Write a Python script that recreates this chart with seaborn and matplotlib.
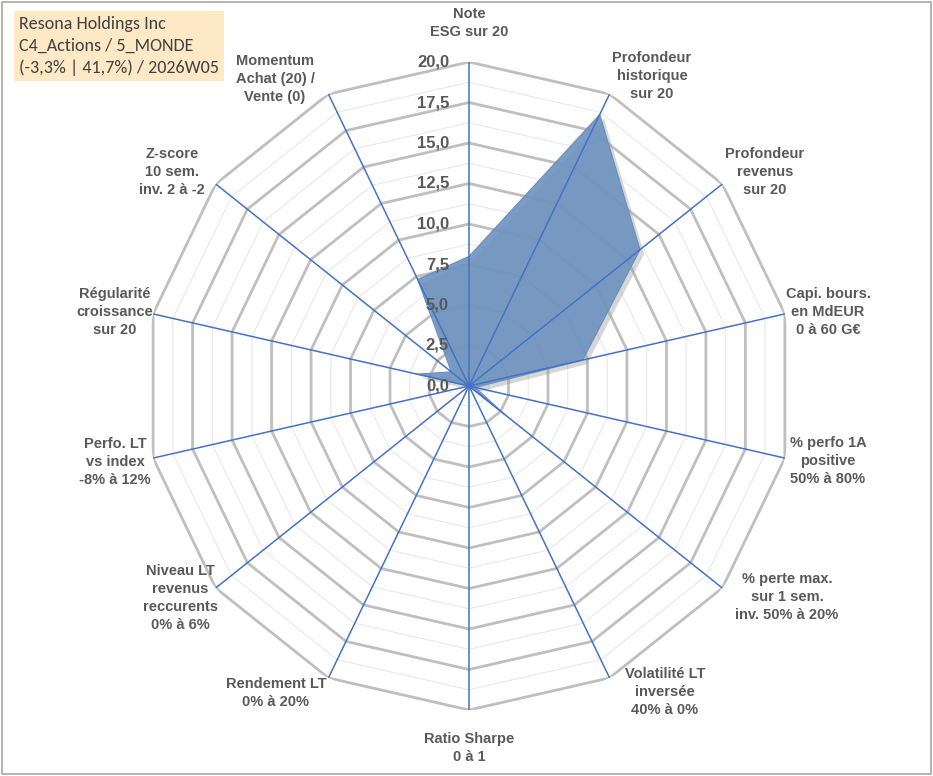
import numpy as np
import matplotlib
matplotlib.use("Agg")
import matplotlib.pyplot as plt
import seaborn as sns
import matplotlib.patheffects as pe

sns.set_theme(style="white")
plt.rcParams['font.family'] = ['Liberation Sans', 'DejaVu Sans']

categories = [
    "Note\nESG sur 20",
    "Profondeur\nhistorique\nsur 20",
    "Profondeur\nrevenus\nsur 20",
    "Capi. bours.\nen MdEUR\n0 à 60 G€",
    "% perfo 1A\npositive\n50% à 80%",
    "% perte max.\nsur 1 sem.\ninv. 50% à 20%",
    "Volatilité LT\ninversée\n40% à 0%",
    "Ratio Sharpe\n0 à 1",
    "Rendement LT\n0% à 20%",
    "Niveau LT\nrevenus\nreccurents\n0% à 6%",
    "Perfo. LT\nvs index\n-8% à 12%",
    "Régularité\ncroissance\nsur 20",
    "Z-score\n10 sem.\ninv. 2 à -2",
    "Momentum\nAchat (20) /\nVente (0)",
]
values = [8.0, 18.6, 13.5, 7.2, 0.4, 2.8, 0.0, 0.0, 0.0, 0.0, 0.0, 3.3, 1.4, 7.3]
major_ticks = [0, 2.5, 5, 7.5, 10, 12.5, 15, 17.5, 20]
minor_ticks = [1.25, 3.75, 6.25, 8.75, 11.25, 13.75, 16.25, 18.75]
tick_labels = ["0,0", "2,5", "5,0", "7,5", "10,0", "12,5", "15,0", "17,5", "20,0"]
title_lines = "Resona Holdings Inc\nC4_Actions / 5_MONDE\n(-3,3% | 41,7%) / 2026W05"

# label pixel positions (center) in the 933x776 canvas
label_pos = [(469, 23), (652, 76), (765, 172), (828, 312), (828, 461), (787, 597),
             (665, 692), (469, 748), (276, 693), (180, 598), (115, 462), (115, 312),
             (172, 172), (275, 79)]

LAB_FONT = ["Liberation Sans", "DejaVu Sans"]

W, H = 933, 776
fig = plt.figure(figsize=(W / 100, H / 100), dpi=100)
fig.patch.set_facecolor("white")

cx, cy, R = 469, 386, 324
ax = fig.add_axes([(cx - R) / W, (H - cy - R) / H, 2 * R / W, 2 * R / H], projection="polar")
ax.set_theta_zero_location("N")
ax.set_theta_direction(-1)
ax.set_ylim(0, 20)
ax.grid(False)
ax.spines["polar"].set_visible(False)
ax.set_xticks([])
ax.set_yticks([])
ax.patch.set_alpha(0)

n = len(categories)
theta = np.linspace(0, 2 * np.pi, n, endpoint=False)
theta_c = np.append(theta, theta[0])

for r in minor_ticks:
    ax.plot(theta_c, [r] * (n + 1), color="#e8e8e8", lw=0.8, zorder=1)
for r in major_ticks[1:]:
    ax.plot(theta_c, [r] * (n + 1), color="#bfbfbf", lw=2.0, zorder=1)

vals_c = np.append(values, values[0])
shadow = [pe.SimplePatchShadow(offset=(3, -3), shadow_rgbFace="#9a9a9a", alpha=0.4), pe.Normal()]
ax.fill(theta_c, vals_c, color="#6f94c0", alpha=0.92, zorder=2, lw=0, path_effects=shadow)
ax.plot(theta_c, vals_c, color="#6a8fbf", lw=0.8, zorder=3)

for t in theta:
    ax.plot([t, t], [0, 20], color="#4472c4", lw=1.1, zorder=4)

for r, lab in zip(major_ticks, tick_labels):
    y_px = cy - r * R / 20
    fig.text(449 / W, 1 - y_px / H, lab, ha="right", va="center",
             fontsize=12, fontweight="bold", color="#595959", zorder=5,
             family=LAB_FONT)

for lab, (x, y) in zip(categories, label_pos):
    fig.text(x / W, 1 - y / H, lab, ha="center", va="center", fontsize=10.5,
             fontweight="bold", color="#595959", linespacing=1.35, family=LAB_FONT)

fig.text(19 / W, 1 - 46 / H, title_lines, ha="left", va="center", fontsize=13,
         color="#404040", linespacing=1.4,
         family=["Carlito", "DejaVu Sans"],
         bbox=dict(boxstyle="square,pad=0.3", fc="#fde9c6", ec="none"))

border = plt.Rectangle((0.002, 0.002), 0.996, 0.996, transform=fig.transFigure,
                       fill=False, ec="#a6a6a6", lw=1.2)
fig.patches.append(border)

fig.savefig("out.png", dpi=100)
